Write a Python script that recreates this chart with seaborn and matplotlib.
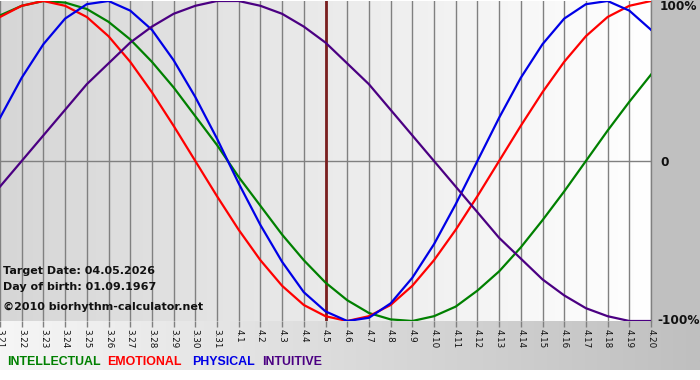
import numpy as np
import pandas as pd
import matplotlib
matplotlib.use("Agg")
import matplotlib.pyplot as plt
from matplotlib.patches import Rectangle
import seaborn as sns

# ---- data (-1..1 = -100%..100%) ----
days = ["3.21", "3.22", "3.23", "3.24", "3.25", "3.26", "3.27", "3.28", "3.29", "3.30", "3.31",
        "4.1", "4.2", "4.3", "4.4", "4.5", "4.6", "4.7", "4.8", "4.9", "4.10", "4.11", "4.12",
        "4.13", "4.14", "4.15", "4.16", "4.17", "4.18", "4.19", "4.20"]

physical = [0.27, 0.52, 0.73, 0.89, 0.98, 1.00, 0.94, 0.82, 0.63, 0.40, 0.14, -0.14, -0.40,
            -0.63, -0.82, -0.94, -1.00, -0.98, -0.89, -0.73, -0.52, -0.27, 0.00, 0.27, 0.52,
            0.73, 0.89, 0.98, 1.00, 0.94, 0.82]
emotional = [0.90, 0.97, 1.00, 0.97, 0.90, 0.78, 0.62, 0.43, 0.22, 0.00, -0.22, -0.43, -0.62,
             -0.78, -0.90, -0.97, -1.00, -0.97, -0.90, -0.78, -0.62, -0.43, -0.22, 0.00, 0.22,
             0.43, 0.62, 0.78, 0.90, 0.97, 1.00]
intellectual = [0.91, 0.97, 1.00, 0.99, 0.95, 0.87, 0.76, 0.62, 0.46, 0.28, 0.10, -0.10, -0.28,
                -0.46, -0.62, -0.76, -0.87, -0.95, -0.99, -1.00, -0.97, -0.91, -0.81, -0.69,
                -0.54, -0.37, -0.19, 0.00, 0.19, 0.37, 0.54]
intuitive = [-0.16, 0.00, 0.16, 0.32, 0.48, 0.61, 0.74, 0.84, 0.92, 0.97, 1.00, 1.00, 0.97,
             0.92, 0.84, 0.74, 0.61, 0.48, 0.32, 0.16, 0.00, -0.16, -0.32, -0.48, -0.61,
             -0.74, -0.84, -0.92, -0.97, -1.00, -1.00]

series_names = ["INTELLECTUAL", "EMOTIONAL", "PHYSICAL", "INTUITIVE"]
series_values = [intellectual, emotional, physical, intuitive]
series_colors = ["#008000", "#ff0000", "#0000e6", "#4b0082"]
target_day = "4.5"
info_lines = ["Target Date: 04.05.2026", "Day of birth: 01.09.1967", "\u00a92010 biorhythm-calculator.net"]
y_labels = ["100%", "0", "-100%"]

# ---- build long table ----
rows = []
for name, vals in zip(series_names, series_values):
    for i, v in enumerate(vals):
        rows.append({"day": i, "value": v, "series": name})
df = pd.DataFrame(rows)

W, H = 700, 380
fig = plt.figure(figsize=(W / 100, H / 100), dpi=100)
fig.patch.set_facecolor("white")

def fx(x):
    return x / W

def fy(y):
    return 1 - y / H

# background axes in pixel coordinates
bg = fig.add_axes([0, 0, 1, 1])
bg.set_xlim(0, W)
bg.set_ylim(H, 0)
bg.axis("off")
grad = np.linspace(0, 1, 256)[None, :]
band_cmap = matplotlib.colors.LinearSegmentedColormap.from_list("band", ["#f6f6f6", "#bfbfbf"])
bg.imshow(grad, cmap=band_cmap, extent=(0, W, 370, 321), aspect="auto", zorder=0)
bg.add_patch(Rectangle((651, 0), W - 651, 321, color="#c0c0c0", zorder=1, lw=0))

# main plot axes
px_left, px_right, px_top, px_bottom = 0, 651, 1, 321
ax = fig.add_axes([px_left / W, 1 - px_bottom / H, (px_right - px_left) / W, (px_bottom - px_top) / H])
ax.set_xlim(0, len(days) - 1)
ax.set_ylim(-1.0, 1.0)
plot_cmap = matplotlib.colors.LinearSegmentedColormap.from_list("plotbg", ["#d6d6d6", "#ffffff"])
ax.imshow(grad, cmap=plot_cmap, extent=(0, len(days) - 1, -1, 1), aspect="auto", zorder=0)

for i in range(len(days)):
    ax.axvline(i, color="#808080", lw=1.0, zorder=1)
ax.axhline(0, color="#808080", lw=1.0, zorder=1)
ax.axvline(days.index(target_day), color="#7a1f1f", lw=2.0, zorder=2)

sns.lineplot(data=df, x="day", y="value", hue="series", hue_order=series_names,
             palette=dict(zip(series_names, series_colors)), lw=1.6, legend=False,
             ax=ax, zorder=3)

for s in ["top", "left", "bottom"]:
    ax.spines[s].set_visible(False)
ax.spines["right"].set_color("#808080")
ax.spines["right"].set_linewidth(1.0)
ax.set_xlabel("")
ax.set_ylabel("")
ax.set_yticks([])
ax.set_xticks(range(len(days)))
ax.set_xticklabels(days, rotation=-90, fontsize=6.3, family="DejaVu Sans", va="top", ha="center")
ax.tick_params(axis="x", length=4, width=1, color="#808080", pad=1.5, labelcolor="#111111")

# info text (figure level, drawn above the axes)
info_y = [271, 287, 307]
for t, y in zip(info_lines, info_y):
    fig.text(fx(3), fy(y), t, fontsize=8, fontweight="bold", color="#111111",
             va="center", ha="left", zorder=10)

# right labels
for t, y in zip(y_labels, [7, 162, 321]):
    fig.text(fx(657 if t.startswith("-") else 660), fy(y), t, fontsize=8.7, fontweight="bold",
             color="#111111", va="center", ha="left", zorder=10)

# legend text
leg_x = [7, 107, 192, 262]
for name, c, x in zip(series_names, series_colors, leg_x):
    fig.text(fx(x), fy(362), name, fontsize=8.9, fontweight="bold", family="Liberation Sans",
             color=c, va="center", ha="left", zorder=10)

fig.savefig("out.png", dpi=100)
